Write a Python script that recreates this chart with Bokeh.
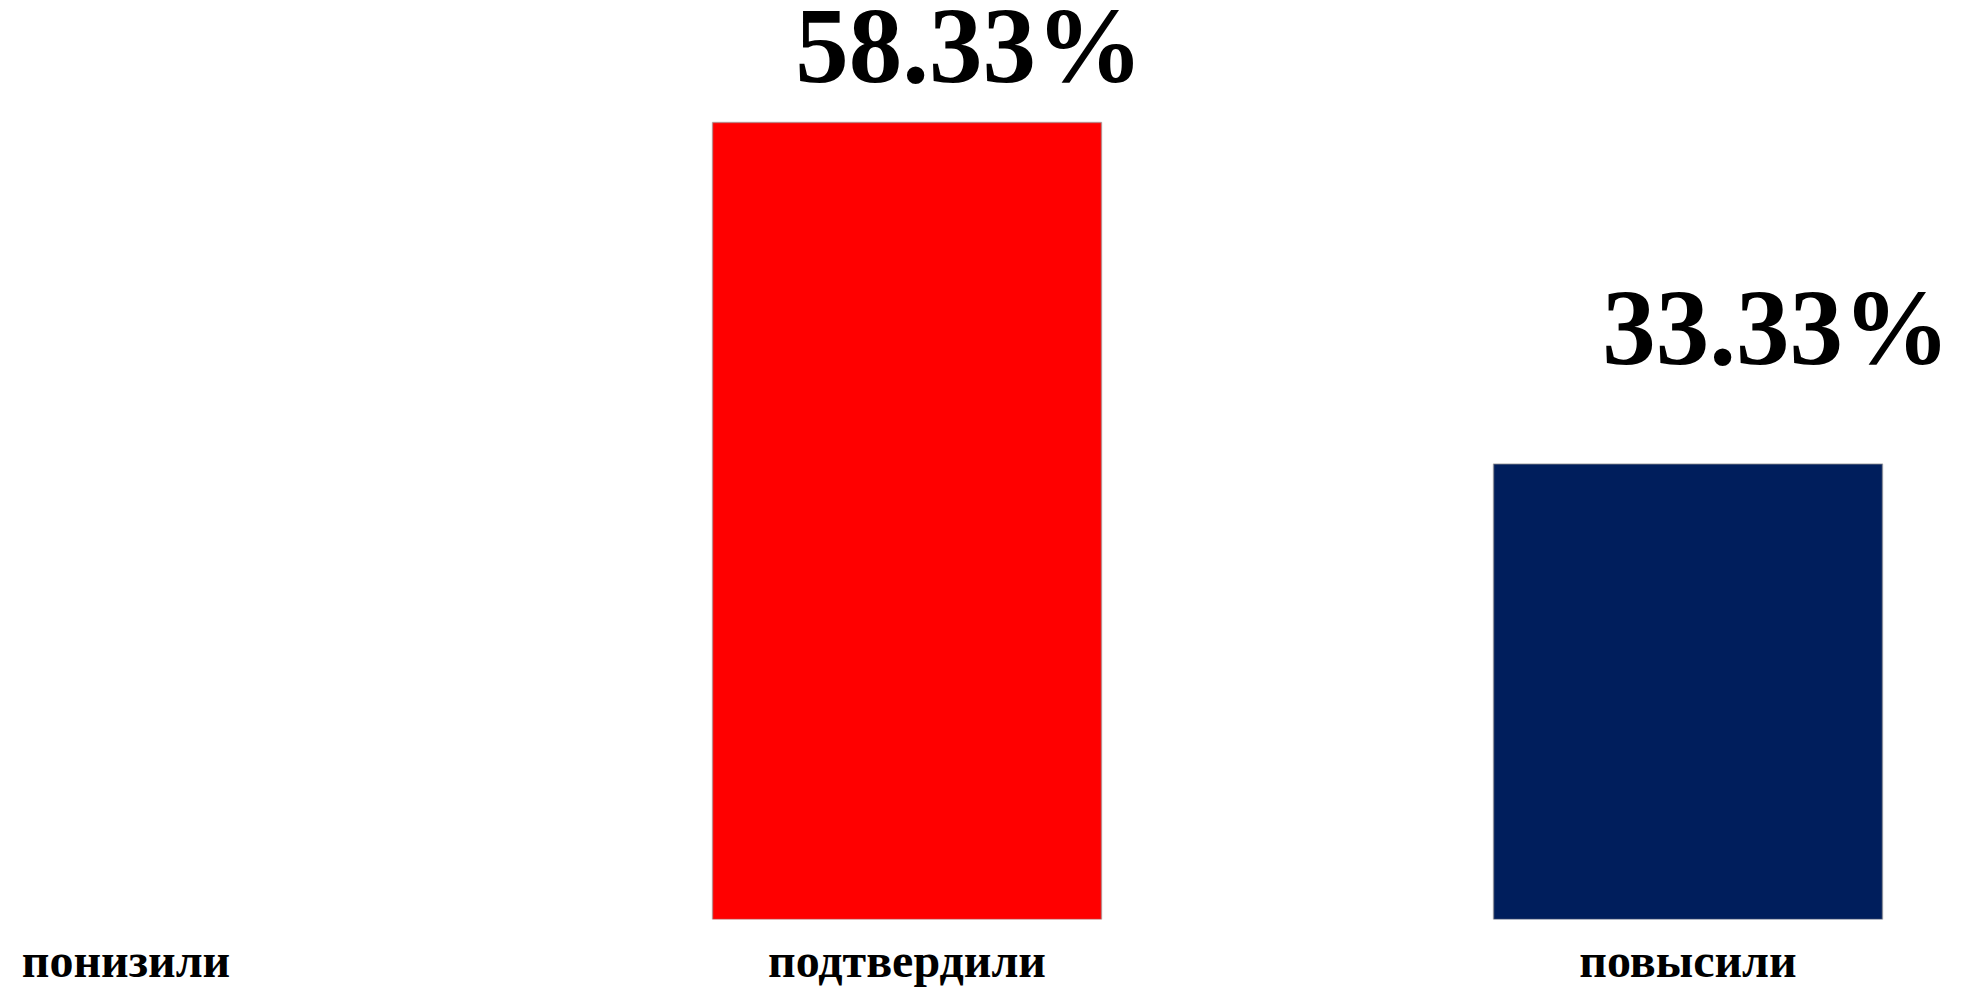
from bokeh.plotting import figure
from bokeh.models import ColumnDataSource, Range1d, FixedTicker
from bokeh.core.properties import value
from bokeh.embed import file_html
from bokeh.resources import INLINE

categories = ["понизили", "подтвердили", "повысили"]
percentages = [0.0, 58.33, 33.33]
bar_colors = ["#FF0000", "#FF0000", "#001E5C"]

xs = list(range(len(categories)))
labels = [f"{v:.2f}%" if v > 0 else "" for v in percentages]
edge_alpha = [0.55 if v > 0 else 0.0 for v in percentages]

# styling: label offsets (screen px) relative to bar top centre
label_dx = [0, 62, 88]
label_dy = [-77, -77, -136]

W, H = 1965, 990
p = figure(width=W, height=H, output_backend="svg", toolbar_location=None,
           x_range=Range1d(-0.1607, 2.3553), y_range=Range1d(0, 67.26),
           min_border_left=0, min_border_right=0, min_border_top=0,
           min_border_bottom=71)

src = ColumnDataSource(dict(x=xs, top=percentages, color=bar_colors,
                            label=labels, dx=label_dx, dy=label_dy,
                            ea=edge_alpha))
p.vbar(x="x", top="top", width=0.498, bottom=0, source=src,
       fill_color="color", line_color="#8c8c8c", line_alpha="ea", line_width=1.5)

p.text(x="x", y="top", text="label", source=src, x_offset="dx", y_offset="dy",
       text_align="center", text_baseline="alphabetic",
       text_font=value("Liberation Serif"), text_font_style="bold",
       text_font_size="107px", text_color="black")

p.yaxis.visible = False
p.xgrid.visible = False
p.ygrid.visible = False
p.outline_line_color = None
p.xaxis.axis_line_color = None
p.xaxis.major_tick_line_color = None
p.xaxis.minor_tick_line_color = None
p.xaxis.major_tick_out = 0
p.xaxis.major_tick_in = 0
p.xaxis.ticker = FixedTicker(ticks=xs)
p.xaxis.major_label_overrides = {i: c for i, c in zip(xs, categories)}
p.xaxis.major_label_text_font = "Liberation Serif"
p.xaxis.major_label_text_font_style = "bold"
p.xaxis.major_label_text_font_size = "48px"
p.xaxis.major_label_text_color = "black"
p.xaxis.major_label_standoff = 14

open("out.html", "w").write(file_html(p, INLINE))
